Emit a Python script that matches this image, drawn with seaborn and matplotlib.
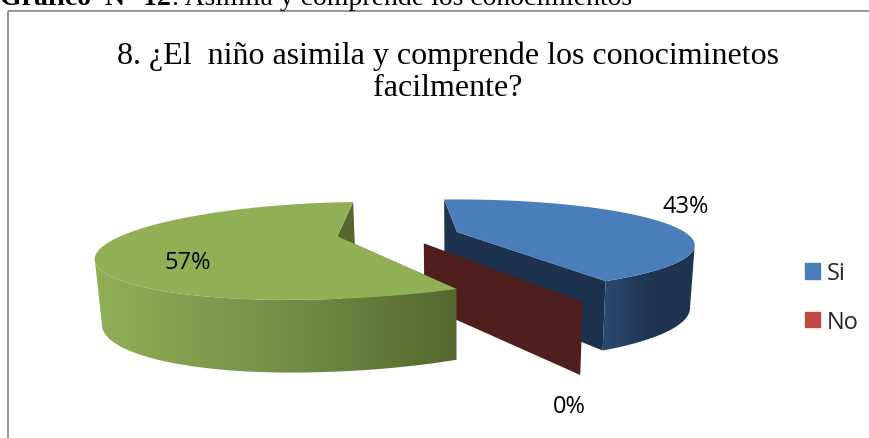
import matplotlib
matplotlib.use("Agg")
import matplotlib.pyplot as plt
from matplotlib.patches import Patch, Rectangle, Polygon
import numpy as np
import seaborn as sns

sns.set_theme(style="white")

# Datos
categorias = ["Si", "No", "Otro"]
valores = [43, 0, 57]
etiquetas = ["43%", "0%", "57%"]
titulo = "8. ¿El  niño asimila y comprende los conociminetos\nfacilmente?"
leyenda = ["Si", "No"]

colores = ["#4A7EBB", "#BE4B48", "#91AF55"]
pared = {"Si": ["#2B4A70", "#1F3552", "#1E3350"], "Otro": ["#91AF55", "#76904A", "#55672E"]}

# Parametros de la proyeccion (pastel 3D con perspectiva)
VX, VY = 457, 233
A, K, P = 237, 42.0, 0.29
inicio = 94
desplaz = {"Si": (0.0, 0.0), "No": (-0.13, -0.25), "Otro": (-0.49, -0.10)}
escala = {"Si": (1.0, 0.96), "No": (1.0, 1.0), "Otro": (0.89, 1.0)}


def proyectar(t, nombre, r=1.0):
    offset = desplaz[nombre]
    c = r * np.cos(np.radians(t))
    c = np.where(c < 0, c * escala[nombre][0], c * escala[nombre][1])
    x = offset[0] + c
    z = offset[1] + r * np.sin(np.radians(t))
    d = 1 + P * z
    return VX + A * x / d, VY - K * z / d, d


def bajar(px, py, d):
    # punto inferior de la pared
    return VX + (px - VX) * 0.98, py + 60 / np.sqrt(d)


def pared_radial(ax, t, nombre, color, z):
    x0, y0, d0 = proyectar(t, nombre, 0)
    x1, y1, d1 = proyectar(t, nombre)
    bx0, by0 = bajar(x0, y0, d0)
    bx1, by1 = bajar(x1, y1, d1)
    ax.fill([x0, x1, bx1, bx0], [y0, y1, by1, by0], color=color, lw=0, zorder=z)


def rebanada(ax, nombre, t_ini, t_fin, color, radial, z):
    ts = np.linspace(t_ini, t_fin, 400)
    x, y, d = proyectar(ts, nombre)
    bx, by = bajar(x, y, d)
    cx, cy, _ = proyectar(t_ini, nombre, 0)

    for t in (t_ini, t_fin):
        pared_radial(ax, t, nombre, radial, z)

    # pared exterior con degradado horizontal, solo la parte de delante
    extremo = np.argmax(x) if nombre == "Si" else np.argmin(x)
    frente = y >= y[extremo]
    muro = np.c_[np.r_[x[frente], bx[frente][::-1]], np.r_[y[frente], by[frente][::-1]]]
    x_a, x_b = muro[:, 0].min(), muro[:, 0].max()
    tonos = sns.blend_palette(pared[nombre], 128, as_cmap=True)
    img = ax.imshow(np.linspace(0, 1, 256)[None, :], cmap=tonos, aspect="auto",
                    extent=(x_a, x_b, 439, 0), zorder=z + 1)
    parche = Polygon(muro, transform=ax.transData, fc="none", ec="none")
    ax.add_patch(parche)
    img.set_clip_path(parche)

    ax.fill(np.r_[cx, x], np.r_[cy, y], color=color, lw=0, zorder=z + 2)


fig = plt.figure(figsize=(8.7, 4.39), dpi=100)
ax = fig.add_axes([0, 0, 1, 1])
ax.axis("off")

ax.add_patch(Rectangle((8, 12), 870, 440, fill=False, ec="#868686", lw=1.2))

# angulos a partir de los valores (sentido horario)
total = sum(valores)
angulos = inicio - np.cumsum([0] + valores) * 360 / total

rebanada(ax, "Si", angulos[0], angulos[1], colores[0], "#1D324F", 10)
pared_radial(ax, angulos[1], "No", "#4F1F1E", 20)
rebanada(ax, "Otro", angulos[2], angulos[3], colores[2], "#55672E", 30)

ax.set_xlim(0, 870)
ax.set_ylim(439, 0)

# Textos
ax.text(0, 5, "Gráfico  N° 12", family="Liberation Serif", weight="bold", fontsize=20, color="black", va="baseline", zorder=50)
ax.text(172, 5, ". Asimila y comprende los conocimientos", family="Liberation Serif", fontsize=20, color="black", va="baseline", zorder=50)
ax.text(448, 72, titulo, family="Liberation Serif", fontsize=23, color="black", ha="center", va="center", linespacing=1.12, zorder=50)

fuente = "Open Sans"
ax.text(686, 207, etiquetas[0], family=fuente, fontsize=17, color="black", ha="center", va="center", zorder=50)
ax.text(569, 407, etiquetas[1], family=fuente, fontsize=17, color="black", ha="center", va="center", zorder=50)
ax.text(188, 263, etiquetas[2], family=fuente, fontsize=17, color="black", ha="center", va="center", zorder=50)

manejadores = [Patch(color=colores[0]), Patch(color=colores[1])]
ax.legend(manejadores, leyenda, loc="center left", bbox_to_anchor=(805 / 870, 1 - 298.5 / 439), frameon=False,
          prop={"family": fuente, "size": 17}, handlelength=0.635, handleheight=0.635, handletextpad=0.3,
          labelspacing=1.05, borderpad=0, borderaxespad=0)

fig.savefig("out.png", dpi=100)
